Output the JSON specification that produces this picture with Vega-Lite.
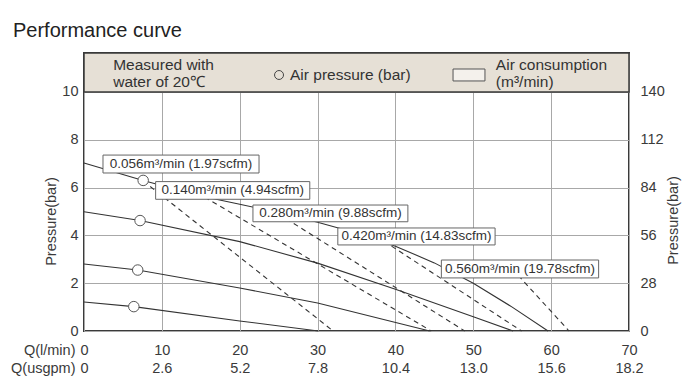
{
  "$schema": "https://vega.github.io/schema/vega-lite/v6.json",
  "width": 545,
  "height": 278,
  "autosize": {"type": "none"},
  "padding": {"left": 84, "top": 53, "right": 61, "bottom": 59},
  "background": "white",
  "title": {"text": "Performance curve", "anchor": "start", "frame": "group", "dx": -71, "offset": -5, "baseline": "alphabetic", "fontSize": 20, "fontWeight": "normal", "font": "Liberation Sans", "color": "#222222"},
  "config": {
    "view": {"stroke": "#3a3a3a", "strokeWidth": 2},
    "axis": {"labelFont": "Liberation Sans", "labelFontSize": 14.5, "labelColor": "#3a3a3a", "ticks": false, "domain": false, "gridColor": "#a8a8a8", "gridWidth": 1, "titleFont": "Liberation Sans", "titleFontSize": 14.5, "titleFontWeight": "normal", "titleColor": "#3a3a3a"},
    "text": {"font": "Liberation Sans"}
  },
  "datasets": {
    "band": [{"q": 0, "q2": 70, "p": 10, "p2": 11.63}],
    "solid": [
      {"id": "L1", "q": 0, "p": 7.03}, {"id": "L1", "q": 7.6, "p": 6.3}, {"id": "L1", "q": 15, "p": 5.65}, {"id": "L1", "q": 20, "p": 5.3}, {"id": "L1", "q": 25, "p": 4.95}, {"id": "L1", "q": 30, "p": 4.55}, {"id": "L1", "q": 35, "p": 4.1}, {"id": "L1", "q": 40, "p": 3.55}, {"id": "L1", "q": 45, "p": 2.85}, {"id": "L1", "q": 50, "p": 2.0}, {"id": "L1", "q": 55, "p": 1.0}, {"id": "L1", "q": 59.6, "p": 0},
      {"id": "L2", "q": 0, "p": 4.99}, {"id": "L2", "q": 7.2, "p": 4.62}, {"id": "L2", "q": 20, "p": 3.74}, {"id": "L2", "q": 30, "p": 2.84}, {"id": "L2", "q": 40, "p": 1.75}, {"id": "L2", "q": 50, "p": 0.6}, {"id": "L2", "q": 55.1, "p": 0},
      {"id": "L3", "q": 0, "p": 2.8}, {"id": "L3", "q": 6.9, "p": 2.55}, {"id": "L3", "q": 20, "p": 1.8}, {"id": "L3", "q": 30, "p": 1.17}, {"id": "L3", "q": 44.4, "p": 0},
      {"id": "L4", "q": 0, "p": 1.21}, {"id": "L4", "q": 6.4, "p": 1.02}, {"id": "L4", "q": 20, "p": 0.42}, {"id": "L4", "q": 30.1, "p": 0}
    ],
    "dashed": [
      {"id": "D1", "q": 7.6, "p": 6.28}, {"id": "D1", "q": 32, "p": 0},
      {"id": "D2", "q": 15.5, "p": 5.6}, {"id": "D2", "q": 44.6, "p": 0},
      {"id": "D3", "q": 24, "p": 5.1}, {"id": "D3", "q": 48.9, "p": 0},
      {"id": "D4", "q": 39.5, "p": 3.55}, {"id": "D4", "q": 56.2, "p": 0},
      {"id": "D5", "q": 55, "p": 2.6}, {"id": "D5", "q": 62.3, "p": 0}
    ],
    "boxes": [
      {"q": 2.44, "q2": 22.48, "p": 6.61, "p2": 7.36},
      {"q": 9.2, "q2": 29.0, "p": 5.51, "p2": 6.25},
      {"q": 21.7, "q2": 41.6, "p": 4.57, "p2": 5.27},
      {"q": 32.6, "q2": 52.8, "p": 3.6, "p2": 4.31},
      {"q": 45.9, "q2": 66.1, "p": 2.22, "p2": 2.97}
    ],
    "boxText": [
      {"q": 12.46, "p": 6.985, "t": "0.056m³/min (1.97scfm)"},
      {"q": 19.1, "p": 5.88, "t": "0.140m³/min (4.94scfm)"},
      {"q": 31.65, "p": 4.92, "t": "0.280m³/min (9.88scfm)"},
      {"q": 42.7, "p": 3.955, "t": "0.420m³/min (14.83scfm)"},
      {"q": 56.0, "p": 2.595, "t": "0.560m³/min (19.78scfm)"}
    ],
    "legendRect": [{"q": 47.4, "q2": 51.5, "p": 10.46, "p2": 10.96}],
    "legendCircle": [{"q": 25.05, "p": 10.71}],
    "legendText": [
      {"q": 3.75, "p": 11.13, "t": "Measured with"},
      {"q": 3.75, "p": 10.42, "t": "water of 20℃"},
      {"q": 26.46, "p": 10.71, "t": "Air pressure (bar)"},
      {"q": 52.9, "p": 11.13, "t": "Air consumption"},
      {"q": 52.9, "p": 10.42, "t": "(m³/min)"}
    ],
    "circles": [
      {"q": 7.6, "p": 6.3}, {"q": 7.2, "p": 4.62}, {"q": 6.9, "p": 2.55}, {"q": 6.4, "p": 1.02}
    ]
  },
  "layer": [
    {
      "encoding": {
        "x": {"field": "q", "type": "quantitative", "scale": {"domain": [0, 70], "nice": false, "zero": false},
          "axis": {"orient": "bottom", "values": [0, 10, 20, 30, 40, 50, 60, 70], "grid": true, "labelFlush": false, "labelPadding": 12, "title": "Q(l/min)", "titleX": -9, "titleY": 12, "titleAlign": "right", "titleBaseline": "top", "titleAngle": 0}},
        "y": {"field": "p", "type": "quantitative", "scale": {"domain": [0, 11.63], "nice": false, "zero": false},
          "axis": {"orient": "left", "values": [0, 2, 4, 6, 8, 10], "grid": true, "labelPadding": 6, "title": "Pressure(bar)", "titlePadding": 3, "titleY": 168}}
      },
      "layer": [
        {"data": {"name": "band"}, "mark": {"type": "rect", "fill": "#e6e0d6", "stroke": "#3a3a3a", "strokeWidth": 1.5}, "encoding": {"x2": {"field": "q2"}, "y2": {"field": "p2"}}},
        {"data": {"name": "solid"}, "mark": {"type": "line", "stroke": "#333333", "strokeWidth": 1.1}, "encoding": {"detail": {"field": "id"}}},
        {"data": {"name": "dashed"}, "mark": {"type": "line", "stroke": "#333333", "strokeWidth": 1.1, "strokeDash": [5, 4]}, "encoding": {"detail": {"field": "id"}}},
        {"data": {"name": "boxes"}, "mark": {"type": "rect", "fill": "white", "stroke": "#666666", "strokeWidth": 1}, "encoding": {"x2": {"field": "q2"}, "y2": {"field": "p2"}}},
        {"data": {"name": "boxText"}, "mark": {"type": "text", "fontSize": 13.5, "color": "#333333", "align": "center", "baseline": "middle"}, "encoding": {"text": {"field": "t"}}},
        {"data": {"name": "legendRect"}, "mark": {"type": "rect", "fill": "#f4f1ec", "stroke": "#555555", "strokeWidth": 1}, "encoding": {"x2": {"field": "q2"}, "y2": {"field": "p2"}}},
        {"data": {"name": "legendCircle"}, "mark": {"type": "point", "shape": "circle", "filled": false, "size": 80, "stroke": "#444444", "strokeWidth": 1, "opacity": 1}},
        {"data": {"name": "legendText"}, "mark": {"type": "text", "fontSize": 15.5, "color": "#333333", "align": "left", "baseline": "middle"}, "encoding": {"text": {"field": "t"}}}
      ]
    },
    {
      "data": {"name": "circles"},
      "mark": {"type": "point", "shape": "circle", "filled": true, "fill": "white", "stroke": "#555555", "strokeWidth": 1, "size": 110, "opacity": 1},
      "encoding": {
        "x": {"field": "q", "type": "quantitative", "scale": {"domain": [0, 70], "nice": false, "zero": false},
          "axis": {"orient": "bottom", "offset": 18, "values": [0, 10, 20, 30, 40, 50, 60, 70], "grid": false, "labelFlush": false, "labelPadding": 12, "labelExpr": "datum.value == 0 ? '0' : format(datum.value * 0.26, '.1f')", "title": "Q(usgpm)", "titleX": -9, "titleY": 12, "titleAlign": "right", "titleBaseline": "top", "titleAngle": 0}},
        "y": {"field": "p", "type": "quantitative", "scale": {"domain": [0, 11.63], "nice": false, "zero": false},
          "axis": {"orient": "right", "values": [0, 2, 4, 6, 8, 10], "labelExpr": "'' + datum.value * 14", "grid": false, "labelPadding": 11, "title": "Pressure(bar)", "titleAngle": 270, "titleBaseline": "top", "titlePadding": 2, "titleY": 167}}
      }
    }
  ],
  "resolve": {"scale": {"y": "independent"}, "axis": {"x": "independent"}}
}
